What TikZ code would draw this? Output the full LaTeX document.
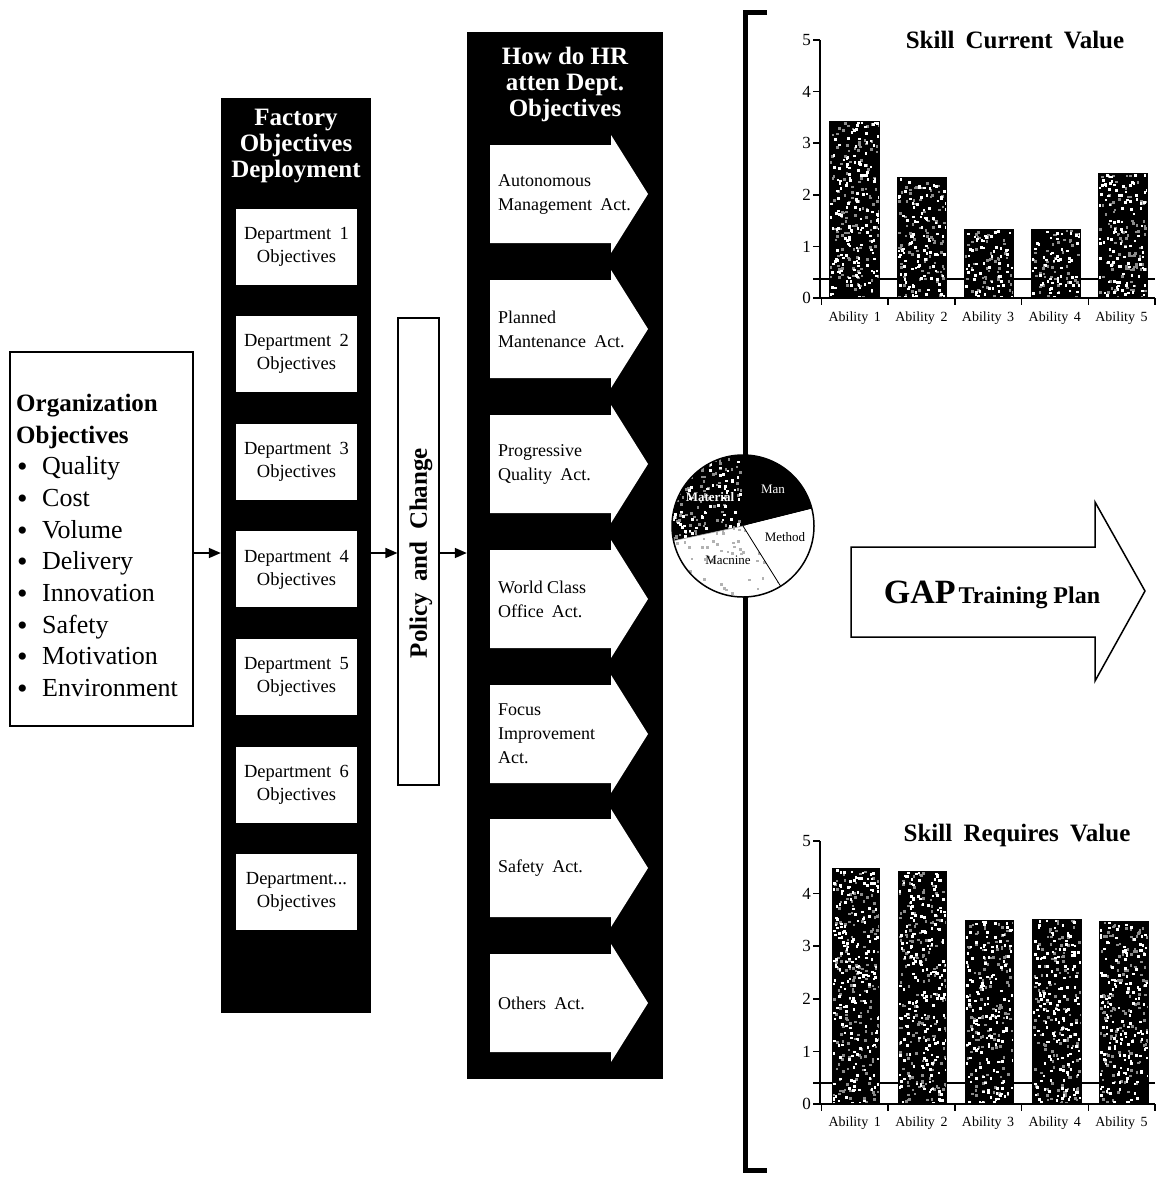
\documentclass[tikz,border=0pt]{standalone}
\usepackage{fontspec}
\setmainfont{Liberation Serif}
\usetikzlibrary{arrows.meta,calc}
\newcommand\myDots[6]{%
  \foreach \k in {1,...,#6}{%
    \pgfmathsetmacro\myPx{#2+rnd*(#4-#2)}%
    \pgfmathsetmacro\myPy{#3+rnd*(#5-#3)}%
    \fill[#1] (\myPx,\myPy) rectangle ++(2.6,2.6);}}
\newcommand\myBar[4]{%
  \begin{scope}
    \clip (#1,#2) rectangle (#3,#4);
    \fill[black] (#1,#2) rectangle (#3,#4);
    \pgfmathtruncatemacro\myNm{(#3-#1)*(#4-#2)/70}
    \myDots{black!45}{#1}{#2}{#3}{#4}{\myNm}
    \pgfmathtruncatemacro\myNn{(#3-#1)*(#4-#2)/55}
    \myDots{white}{#1}{#2}{#3}{#4}{\myNn}
  \end{scope}
  \draw[line width=0.8pt] (#1,#2) rectangle (#3,#4);}
\newcommand\wsp{\hspace{0.45em}}
\begin{document}
\begin{tikzpicture}[x=1pt,y=-1pt,
  colblk/.style={fill=black,draw=none,inner sep=0pt},
  deptbox/.style={fill=white,draw=none,minimum width=121pt,minimum height=76pt,align=center,inner sep=0pt,font=\fontsize{18.5}{23}\selectfont},
  conn/.style={-{Triangle[length=12pt,width=10pt]},line width=1.6pt},
  orgtxt/.style={anchor=base west,inner sep=0pt,font=\fontsize{26}{28}\selectfont},
  acttxt/.style={anchor=west,align=left,inner sep=0pt,font=\fontsize{18}{24}\selectfont},
  actarrow/.style={fill=white,draw=none},
  axlab/.style={anchor=east,inner sep=0pt,font=\fontsize{17}{17}\selectfont},
  ablab/.style={inner sep=0pt,font=\fontsize{14}{14}\selectfont},
  charttitle/.style={inner sep=0pt,font=\fontsize{25}{25}\selectfont\bfseries},
  axisline/.style={line width=1.5pt},
  pielab/.style={inner sep=0pt,font=\fontsize{13}{13}\selectfont},
  coltitle/.style={text=white,align=center,inner sep=0pt,font=\fontsize{25}{26}\selectfont\bfseries}
]
\useasboundingbox (0,0) rectangle (1159,1178);
\pgfmathsetseed{7}

% ---------- Organization objectives ----------
\node[draw,line width=1.2pt,minimum width=183pt,minimum height=374pt,inner sep=0pt] (org) at (101.5,539) {};
\node[orgtxt,font=\fontsize{25}{28}\selectfont\bfseries] (o1) at (16,411) {Organization};
\node[orgtxt,font=\fontsize{25}{28}\selectfont\bfseries] (o2) at (16,443) {Objectives};
\foreach \t [count=\i] in {Quality,Cost,Volume,Delivery,Innovation,Safety,Motivation,Environment}{
  \node[orgtxt,font=\fontsize{30}{30}\selectfont] (b\i) at (17,445+\i*31.7) {\textbullet};
  \node[orgtxt] (ot\i) at (42,443+\i*31.7) {\t};
}

% ---------- Factory column ----------
\node[colblk,minimum width=150pt,minimum height=915pt] (fac) at (296,555.5) {};
\node[coltitle] (factitle) at (296,146) {Factory\\Objectives\\Deployment};
\foreach \i in {1,...,6}{
  \node[deptbox] (d\i) at (296.5,139+\i*107.6) {Department\wsp\i\\Objectives};
}
\node[deptbox] (d7) at (296.5,892.2) {Department...\\Objectives};

% ---------- Policy box ----------
\node[draw,line width=1.1pt,minimum width=41pt,minimum height=467pt,inner sep=0pt] (pol) at (418.5,551.5) {};
\node[rotate=90,inner sep=0pt,font=\fontsize{25}{25}\selectfont\bfseries] (poltxt) at (421,553) {Policy\wsp and\wsp Change};

% ---------- HR column ----------
\node[colblk,minimum width=196pt,minimum height=1047pt] (hr) at (565,555.5) {};
\node[coltitle] (hrtitle) at (565,84) {How do HR\\atten Dept.\\Objectives};
\foreach \c [count=\i] in {194,329,464,599,734,868,1003}{
  \fill[actarrow] (490,\c-49) -- (611,\c-49) -- (611,\c-59) -- (648,\c) -- (611,\c+59) -- (611,\c+49) -- (490,\c+49) -- cycle;
  \coordinate (a\i) at (498,\c);
}
\node[acttxt] (t1) at (a1) {Autonomous\\Management\wsp Act.};
\node[acttxt] (t2) at (a2) {Planned\\Mantenance\wsp Act.};
\node[acttxt] (t3) at (a3) {Progressive\\Quality\wsp Act.};
\node[acttxt] (t4) at (a4) {World Class\\Office\wsp Act.};
\node[acttxt] (t5) at (a5) {Focus\\Improvement\\Act.};
\node[acttxt] (t6) at (a6) {Safety\wsp Act.};
\node[acttxt] (t7) at (a7) {Others\wsp Act.};

% ---------- Connectors ----------
\draw[conn] (org.east |- 0,553) -- (fac.west |- 0,553);
\draw[conn] (fac.east |- 0,553) -- (pol.west |- 0,553);
\draw[conn] (pol.east |- 0,553) -- (hr.west |- 0,553);

% ---------- Bracket ----------
\draw[line width=5pt,line join=miter] (767,12) -- (745,12) -- (745,1170) -- (767,1170);

% ---------- Pie ----------
\coordinate (pc) at (743,526);
\begin{scope}
  \clip (pc) -- ($(pc)+(-90:71)$) arc[start angle=-90,end angle=-192,radius=71] -- cycle;
  \fill[black] (670,453) rectangle (745,545);
  \myDots{black!45}{670}{453}{745}{545}{100}
  \myDots{white}{670}{453}{745}{545}{90}
\end{scope}
\fill[black] (pc) -- ($(pc)+(-14:71)$) arc[start angle=-14,end angle=-90,radius=71] -- cycle;
\fill[white] (pc) -- ($(pc)+(-192:71)$) arc[start angle=-192,end angle=-302,radius=71] -- cycle;
\begin{scope}
  \clip (pc) -- ($(pc)+(-192:71)$) arc[start angle=-192,end angle=-302,radius=71] -- cycle;
  \myDots{black!30}{670}{510}{790}{600}{90}
\end{scope}
\fill[white] (pc) -- ($(pc)+(-302:71)$) arc[start angle=-302,end angle=-374,radius=71] -- cycle;
\draw[line width=0.8pt] (pc) -- ($(pc)+(-302:71)$);
\draw[line width=0.6pt,white!60!black] (pc) -- ($(pc)+(-192:71)$);
\node[circle,draw,line width=1.5pt,minimum size=142pt,inner sep=0pt] (pie) at (pc) {};
\node[pielab,text=white] (lman) at (773,489) {Man};
\node[pielab] (lmethod) at (785,537) {Method};
\node[pielab] (lmachine) at (728,560) {Macnine};
\node[pielab,text=white,font=\fontsize{13}{13}\selectfont\bfseries] (lmaterial) at (710,497) {Material};

% ---------- GAP arrow ----------
\draw[line width=1.5pt,fill=white,line join=miter] (851,547) -- (1095,547) -- (1095,502) -- (1145,591) -- (1095,681) -- (1095,637) -- (851,637) -- cycle;
\node[inner sep=0pt,anchor=base] (gap) at (992,603) {{\fontsize{34}{34}\selectfont\bfseries GAP}\hspace{0.3em}{\fontsize{24}{24}\selectfont\bfseries Training Plan}};

% ---------- Chart 1 ----------
\draw[line width=1.2pt] (813,279) -- (1155,279);
\myBar{829}{121}{879}{298}
\myBar{897}{177}{946}{298}
\myBar{964}{229}{1013}{298}
\myBar{1031}{229}{1080}{298}
\myBar{1098}{173}{1147}{298}
\draw[axisline] (820,40) -- (820,298) -- (1155,298);
\foreach \v in {0,...,5}{
  \draw[axisline] (813,298-\v*51.6) -- (820,298-\v*51.6);
  \node[axlab] (ya\v) at (811,298-\v*51.6) {\v};
}
\foreach \i in {0,...,5}{\draw[axisline] (821.5+\i*66.7,298) -- (821.5+\i*66.7,305);}
\foreach \i in {1,...,5}{\node[ablab] (xa\i) at (788+\i*66.7,318) {Ability\hspace{0.4em}\i};}
\node[charttitle] (title1) at (1015,40) {Skill\wsp Current\wsp Value};

% ---------- Chart 2 ----------
\draw[line width=1.2pt] (813,1083) -- (1155,1083);
\myBar{832}{868}{879}{1103}
\myBar{898}{871}{946}{1103}
\myBar{965}{920}{1013}{1103}
\myBar{1032}{919}{1081}{1103}
\myBar{1099}{921}{1148}{1103}
\draw[axisline] (820,841) -- (820,1104) -- (1155,1104);
\foreach \v in {0,...,5}{
  \draw[axisline] (813,1104-\v*52.6) -- (820,1104-\v*52.6);
  \node[axlab] (yb\v) at (811,1104-\v*52.6) {\v};
}
\foreach \i in {0,...,5}{\draw[axisline] (821.5+\i*66.7,1104) -- (821.5+\i*66.7,1111);}
\foreach \i in {1,...,5}{\node[ablab] (xb\i) at (788+\i*66.7,1123) {Ability\hspace{0.4em}\i};}
\node[charttitle] (title2) at (1017,835) {Skill\wsp Requires\wsp Value};
\end{tikzpicture}
\end{document}
